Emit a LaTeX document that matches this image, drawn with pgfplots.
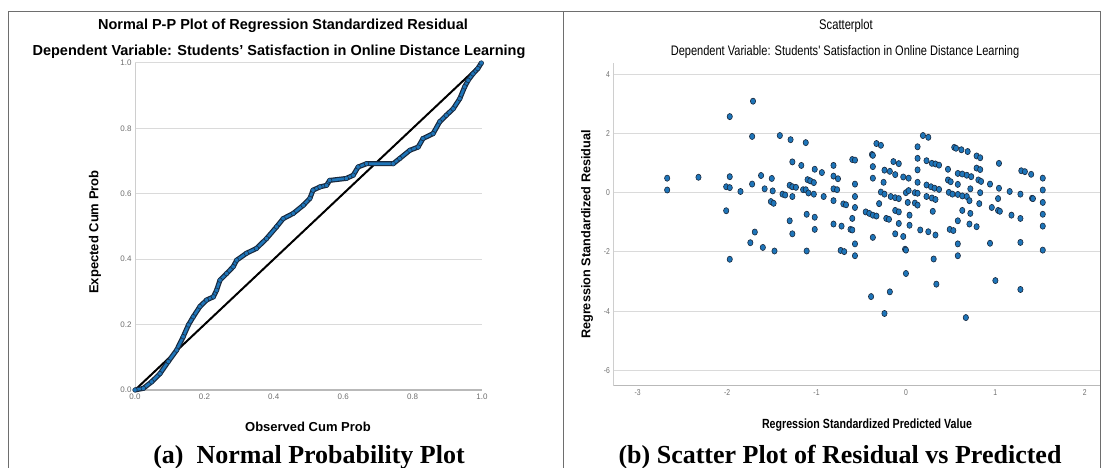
\documentclass[border=0pt]{standalone}
\usepackage{fontspec}
\setmainfont{Liberation Sans}
\newfontfamily\narrowfont[FakeStretch=0.8]{Liberation Sans}
\newfontfamily\capfont{Liberation Serif}
\usepackage{pgfplots}
\pgfplotsset{compat=1.18}

\definecolor{spssblue}{RGB}{30,117,185}
\definecolor{spssedge}{RGB}{25,40,60}
\definecolor{gridgray}{RGB}{218,218,218}
\definecolor{axisgray}{RGB}{185,185,185}
\definecolor{ticktext}{RGB}{110,110,110}
\definecolor{framegray}{RGB}{110,110,110}

\pgfplotsset{
  spss/.style={
    scale only axis, anchor=south west, clip=false,
    axis x line*=bottom, axis y line*=left,
    axis line style={-},
    x axis line style={draw=axisgray, line width=1.6pt},
    y axis line style={draw=axisgray!70, line width=0.8pt},
    ymajorgrids, grid style={draw=gridgray, line width=1pt},
    major tick length=0pt,
    /pgf/number format/assume math mode=true,
    tick label style={text=ticktext},
  }
}

\begin{document}
\begin{tikzpicture}
\useasboundingbox (0pt,0pt) rectangle (1105pt,468pt);

% frame
\draw[framegray, line width=1pt] (8pt,-5pt) -- (8pt,456pt) -- (1100pt,456pt) -- (1100pt,-5pt);
\draw[framegray, line width=1pt] (563pt,-5pt) -- (563pt,456pt);

% (a) P-P plot
\begin{axis}[spss,
  at={(135pt,78pt)}, width=347pt, height=327pt,
  xmin=0, xmax=1, ymin=0, ymax=1,
  xtick={0,0.2,0.4,0.6,0.8,1}, ytick={0,0.2,0.4,0.6,0.8,1},
  xticklabels={0.0,0.2,0.4,0.6,0.8,1.0},
  yticklabels={0.0,0.2,0.4,0.6,0.8,1.0},
  tick label style={font=\fontsize{8}{9}\selectfont},
]
\addplot[black, line width=2pt] coordinates {(0,0) (1,1)};
\addplot[spssedge, line width=5pt, line join=round] table {
x y
0 0
0.024 0.005
0.048 0.025
0.072 0.05
0.096 0.087
0.12 0.122
0.139 0.163
0.154 0.199
0.168 0.224
0.187 0.255
0.206 0.275
0.226 0.285
0.235 0.305
0.245 0.336
0.264 0.356
0.283 0.377
0.293 0.397
0.321 0.418
0.35 0.433
0.379 0.463
0.408 0.499
0.427 0.524
0.456 0.54
0.485 0.565
0.504 0.586
0.513 0.611
0.533 0.621
0.552 0.626
0.561 0.641
0.609 0.647
0.629 0.657
0.643 0.682
0.667 0.692
0.744 0.692
0.763 0.708
0.792 0.733
0.816 0.743
0.83 0.769
0.859 0.784
0.878 0.82
0.897 0.84
0.917 0.86
0.936 0.891
0.95 0.927
0.96 0.947
0.974 0.967
0.988 0.983
0.998 1.0
};
\addplot[spssblue, line width=2.6pt, line join=round, mark=*, mark size=2.3pt,
  mark options={fill=spssblue, draw=spssedge, line width=0.5pt}] table {
x y
0 0
0.024 0.005
0.048 0.025
0.072 0.05
0.096 0.087
0.12 0.122
0.139 0.163
0.154 0.199
0.168 0.224
0.187 0.255
0.206 0.275
0.226 0.285
0.235 0.305
0.245 0.336
0.264 0.356
0.283 0.377
0.293 0.397
0.321 0.418
0.35 0.433
0.379 0.463
0.408 0.499
0.427 0.524
0.456 0.54
0.485 0.565
0.504 0.586
0.513 0.611
0.533 0.621
0.552 0.626
0.561 0.641
0.609 0.647
0.629 0.657
0.643 0.682
0.667 0.692
0.744 0.692
0.763 0.708
0.792 0.733
0.816 0.743
0.83 0.769
0.859 0.784
0.878 0.82
0.897 0.84
0.917 0.86
0.936 0.891
0.95 0.927
0.96 0.947
0.974 0.967
0.988 0.983
0.998 1.0
};
\end{axis}

\node[font=\bfseries\fontsize{14.5}{16}\selectfont] at (283pt,442pt)
  {Normal P-P Plot of Regression Standardized Residual};
\node[font=\bfseries\fontsize{14.5}{16}\selectfont] at (279pt,416pt)
  {Dependent Variable: Students' Satisfaction in Online Distance Learning};
\node[rotate=90, font=\bfseries\fontsize{13}{15}\selectfont] at (95pt,236pt) {Expected Cum Prob};
\node[font=\bfseries\fontsize{13}{15}\selectfont] at (308pt,41pt) {Observed Cum Prob};

% (b) scatter plot
\begin{axis}[spss,
  at={(613.5pt,82.3pt)}, width=486.5pt, height=322.7pt,
  xmin=-3.27, xmax=2.17, ymin=-6.52, ymax=4.38,
  xtick={-3,-2,-1,0,1,2}, ytick={-6,-4,-2,0,2,4},
  tick label style={font=\narrowfont\fontsize{8.5}{9}\selectfont},
]
\addplot[only marks, mark=*, mark size=3.1pt,
  mark options={fill=spssblue, draw=spssedge, line width=0.6pt, xscale=0.85}] table {
x y
-2.67 0.49
-2.67 0.09
-2.32 0.52
-1.97 2.57
-1.97 0.54
-2.01 0.20
-1.97 0.17
-1.85 0.04
-2.01 -0.61
-1.97 -2.25
-1.71 3.09
-1.72 1.90
-1.72 0.29
-1.69 -1.33
-1.74 -1.69
-1.62 0.58
-1.58 0.13
-1.60 -1.85
-1.50 0.48
-1.49 0.06
-1.51 -0.30
-1.48 -0.36
-1.47 -1.97
-1.41 1.93
-1.38 -0.05
-1.35 -0.08
-1.29 1.79
-1.27 1.04
-1.30 0.25
-1.27 0.20
-1.23 0.18
-1.27 -0.13
-1.30 -0.95
-1.27 -1.39
-1.17 0.92
-1.12 1.69
-1.15 0.10
-1.12 0.10
-1.10 0.44
-1.07 0.40
-1.03 0.34
-1.09 -0.01
-1.03 -0.05
-1.11 -0.73
-1.02 -0.83
-1.02 0.79
-1.02 -1.24
-1.11 -1.97
-0.94 0.68
-0.92 -0.13
-0.81 0.92
-0.81 0.56
-0.76 0.47
-0.81 0.13
-0.77 0.10
-0.81 -0.27
-0.81 -1.06
-0.70 -0.38
-0.67 -0.41
-0.72 -1.13
-0.62 -1.24
-0.60 -1.26
-0.73 -1.95
-0.69 -1.99
-0.60 1.12
-0.57 1.10
-0.57 0.29
-0.57 -0.13
-0.57 -0.50
-0.60 -0.87
-0.57 -1.73
-0.57 -2.13
-0.45 -0.65
-0.41 -0.70
-0.37 -0.76
-0.33 -0.79
-0.38 1.29
-0.37 1.26
-0.37 0.88
-0.37 0.49
-0.37 -1.51
-0.39 -3.51
-0.33 1.66
-0.28 1.60
-0.30 -0.37
-0.25 0.35
-0.28 0.02
-0.24 -0.05
-0.17 -0.13
-0.12 -0.17
-0.08 -0.20
-0.24 0.76
-0.18 0.72
-0.12 0.61
-0.14 1.05
-0.08 0.98
-0.22 -0.87
-0.19 -0.90
-0.12 -0.60
-0.08 -0.65
-0.12 -1.39
-0.03 -1.48
-0.08 -1.04
-0.24 -4.08
-0.18 -3.35
-0.03 0.53
0.03 0.49
0.00 0.00
0.10 0.00
0.03 0.07
0.02 -0.33
0.10 -0.35
0.04 -0.76
0.04 -1.10
-0.01 -1.91
0.00 -1.94
0.00 -2.73
0.13 1.55
0.13 1.16
0.13 0.77
0.13 0.35
0.13 -0.02
0.13 -0.42
0.16 -1.26
0.19 1.93
0.25 1.87
0.23 1.08
0.29 0.99
0.33 0.97
0.37 0.93
0.23 0.26
0.28 0.20
0.32 0.15
0.37 0.11
0.23 -0.13
0.29 -0.18
0.33 -0.23
0.30 -0.63
0.25 -1.32
0.33 -1.43
0.31 -2.24
0.34 -3.09
0.47 0.79
0.47 0.43
0.50 0.37
0.48 0.01
0.52 -0.05
0.49 -1.24
0.53 -1.28
0.54 1.53
0.56 1.50
0.62 1.45
0.69 1.39
0.58 0.28
0.58 0.65
0.63 0.63
0.68 0.59
0.73 0.54
0.58 -0.06
0.63 -0.11
0.68 -0.13
0.58 -0.95
0.63 -0.60
0.58 -1.73
0.58 -2.13
0.67 -4.22
0.72 0.13
0.71 -0.27
0.72 -0.70
0.71 -1.06
0.79 -1.15
0.79 1.24
0.83 1.18
0.79 0.83
0.83 0.78
0.81 0.43
0.84 0.38
0.83 0.00
0.82 -0.37
0.94 0.29
0.96 -0.50
0.94 -1.71
1.04 0.99
1.04 0.15
1.03 -0.20
1.03 -0.60
1.05 -0.63
1.00 -2.97
1.16 0.04
1.18 -0.76
1.28 -0.05
1.29 0.74
1.33 0.71
1.28 -0.87
1.28 -1.68
1.28 -3.27
1.40 0.62
1.41 -0.19
1.42 -0.20
1.53 0.49
1.53 0.09
1.53 -0.33
1.53 -0.73
1.53 -1.13
1.53 -1.94
};
\end{axis}

\node[font=\narrowfont\fontsize{14}{16}\selectfont] at (846pt,442pt) {Scatterplot};
\node[font=\narrowfont\fontsize{13.8}{16}\selectfont] at (845pt,416pt)
  {Dependent Variable: Students' Satisfaction in Online Distance Learning};
\node[rotate=90, font=\bfseries\fontsize{12.7}{15}\selectfont] at (587pt,233.5pt) {Regression Standardized Residual};
\node[font=\narrowfont\bfseries\fontsize{13.3}{15}\selectfont] at (867pt,43pt) {Regression Standardized Predicted Value};

% captions
\node[anchor=base, font=\capfont\bfseries\fontsize{26}{28}\selectfont] at (309pt,4pt) {(a)~~Normal Probability Plot};
\node[anchor=base, font=\capfont\bfseries\fontsize{26}{28}\selectfont] at (840pt,4pt) {(b) Scatter Plot of Residual vs Predicted};
\end{tikzpicture}
\end{document}
